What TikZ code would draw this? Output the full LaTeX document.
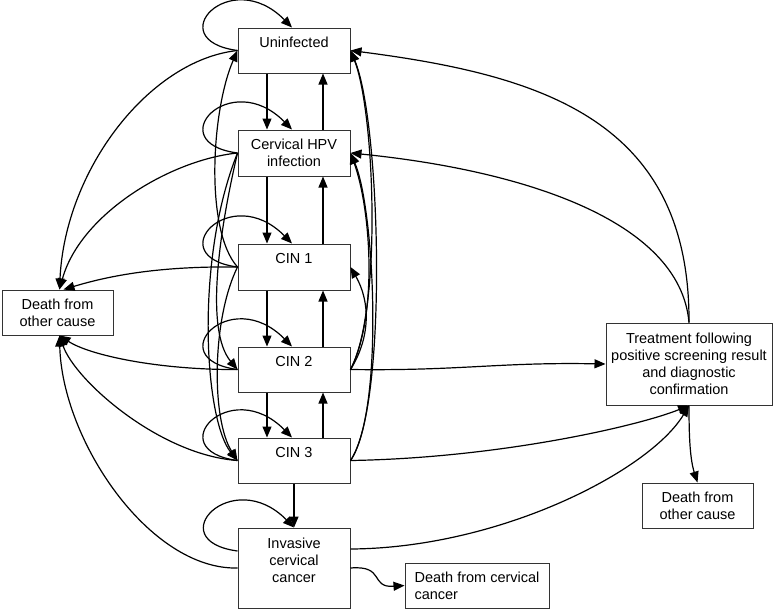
\documentclass[tikz,border=0pt]{standalone}
\usepackage{fontspec}
\setmainfont{Liberation Sans}
\usetikzlibrary{arrows.meta,calc}
\begin{document}
\begin{tikzpicture}[x=1pt,y=-1pt,
  font=\fontsize{14.5}{17}\selectfont,
  box/.style={draw=black!80, line width=1pt, inner sep=1pt, align=center, minimum width=112pt},
  txt/.style={inner sep=0pt, align=center},
  edge/.style={line width=1.2pt, -{Triangle[length=11pt,width=9pt]}}]
\useasboundingbox (0,0) rectangle (775,611);

% state boxes
\node[box, minimum height=45pt] (U)  at (294,50.5) {};
\node[box, minimum height=46pt] (H)  at (294,153) {Cervical HPV\\infection};
\node[box, minimum height=46pt] (C1) at (294,267) {};
\node[box, minimum height=45pt] (C2) at (294,369.5) {};
\node[box, minimum height=45pt] (C3) at (294,460.5) {};
\node[box, minimum height=80pt] (I)  at (294,568) {};
\node[txt] (Ut)  at ($(U.center)+(0,-8.5)$) {Uninfected};
\node[txt] (C1t) at ($(C1.center)+(0,-8.5)$) {CIN 1};
\node[txt] (C2t) at ($(C2.center)+(0,-8.5)$) {CIN 2};
\node[txt] (C3t) at ($(C3.center)+(0,-8.5)$) {CIN 3};
\node[txt] (It)  at ($(I.center)+(0,-8)$) {Invasive\\cervical\\cancer};
\node[box, minimum width=111pt, minimum height=45pt] (DL) at (57.5,312.5) {Death from\\other cause};
\node[box, minimum width=166pt, minimum height=82pt, inner sep=0pt] (T) at (689,364) {Treatment following\\positive screening result\\and diagnostic\\confirmation};
\node[box, minimum width=111pt, minimum height=45pt] (DR) at (697.5,505.5) {Death from\\other cause};
\node[box, minimum width=144pt, minimum height=45pt, align=left] (DC) at (477,585.5) {Death from cervical\\cancer};

% self loops
\foreach \n in {U,H,C1,C2,C3}{
  \draw[edge] (\n.west) .. controls +(-78,-10.5) and +(-62,-63) .. ($(\n.north)+(-2,0)$);
}
\draw[edge] ($(I.west)+(0,-17)$) .. controls +(-78,-10.5) and +(-62,-63) .. (I.north);

% progression (down) and regression (up)
\draw[edge] ($(U.south)+(-27,0)$) -- ($(H.north)+(-27,0)$);
\draw[edge] ($(H.south)+(-27,0)$) -- ($(C1.north)+(-27,0)$);
\draw[edge] ($(C1.south)+(-27,0)$) -- ($(C2.north)+(-27,0)$);
\draw[edge] ($(C2.south)+(-27,0)$) -- ($(C3.north)+(-27,0)$);
\draw[edge] ($(H.north)+(29,0)$) -- ($(U.south)+(29,0)$);
\draw[edge] ($(C1.north)+(29,0)$) -- ($(H.south)+(29,0)$);
\draw[edge] ($(C2.north)+(29,0)$) -- ($(C1.south)+(29,0)$);
\draw[edge] ($(C3.north)+(29,0)$) -- ($(C2.south)+(29,0)$);
\draw[edge] (C3.south) -- (I.north);

% to death from other cause (left)
\draw[edge] (U.west) .. controls +(-88,9.5) and +(5.5,-120) .. ($(DL.north)+(2,0)$);
\draw[edge] (H.west) .. controls +(-68,7) and +(20.5,-75) .. ($(DL.north)+(2,0)$);
\draw[edge] (C1.west) .. controls +(-78,-1) and +(46.5,-14) .. ($(DL.north)+(6,0)$);
\draw[edge] (C2.west) .. controls +(-78,0.5) and +(30.5,20) .. ($(DL.south)+(2,0)$);
\draw[edge] (C3.west) .. controls +(-78,-5.5) and +(15.5,45) .. ($(DL.south)+(2,0)$);
\draw[edge] (I.west) .. controls +(-88,2) and +(2.5,105) .. ($(DL.south)+(2,0)$);

% left-side skips
\draw[edge] (C1.west) .. controls +(-33,-37) and +(-26,59.5) .. (U.west);
\draw[edge] (H.west) .. controls +(-43,107) and +(-33,-40.5) .. (C3.west);
\draw[edge] (H.west) .. controls +(-18,77) and +(-33,-39.5) .. (C2.west);
\draw[edge] (C1.west) .. controls +(-26,53) and +(-26,-40.5) .. (C3.west);

% right-side regressions
\draw[edge] (C2.east) .. controls +(20,-32) and +(20,35) .. (C1.east);
\draw[edge] (C2.east) .. controls +(28,-55) and +(20,55) .. (H.east);
\draw[edge] (C3.east) .. controls +(34,-50) and +(24,55) .. (H.east);
\draw[edge] (C2.east) .. controls +(32,-60) and +(24,60) .. (U.east);
\draw[edge] (C3.east) .. controls +(38,-55) and +(30,70) .. (U.east);

% treatment
\draw[edge] (T.north) .. controls +(1,-203) and +(190,24.5) .. (U.east);
\draw[edge] (T.north) .. controls +(-9,-103) and +(170,17) .. (H.east);
\draw[edge] (C2.east) .. controls +(110,1.5) and +(-106,-2) .. (T.west);
\draw[edge] (C3.east) .. controls +(150,-2.5) and +(-49,20) .. (T.south);
\draw[edge] ($(I.east)+(0,-19)$) .. controls +(150,-1) and +(-39,65) .. (T.south);
\draw[edge] (T.south) .. controls +(0,25) and +(-8,-25) .. (DR.north);

% invasive to death from cervical cancer
\draw[edge] (I.east) .. controls +(35,-3) and +(-35,2.5) .. (DC.west);
\end{tikzpicture}
\end{document}
